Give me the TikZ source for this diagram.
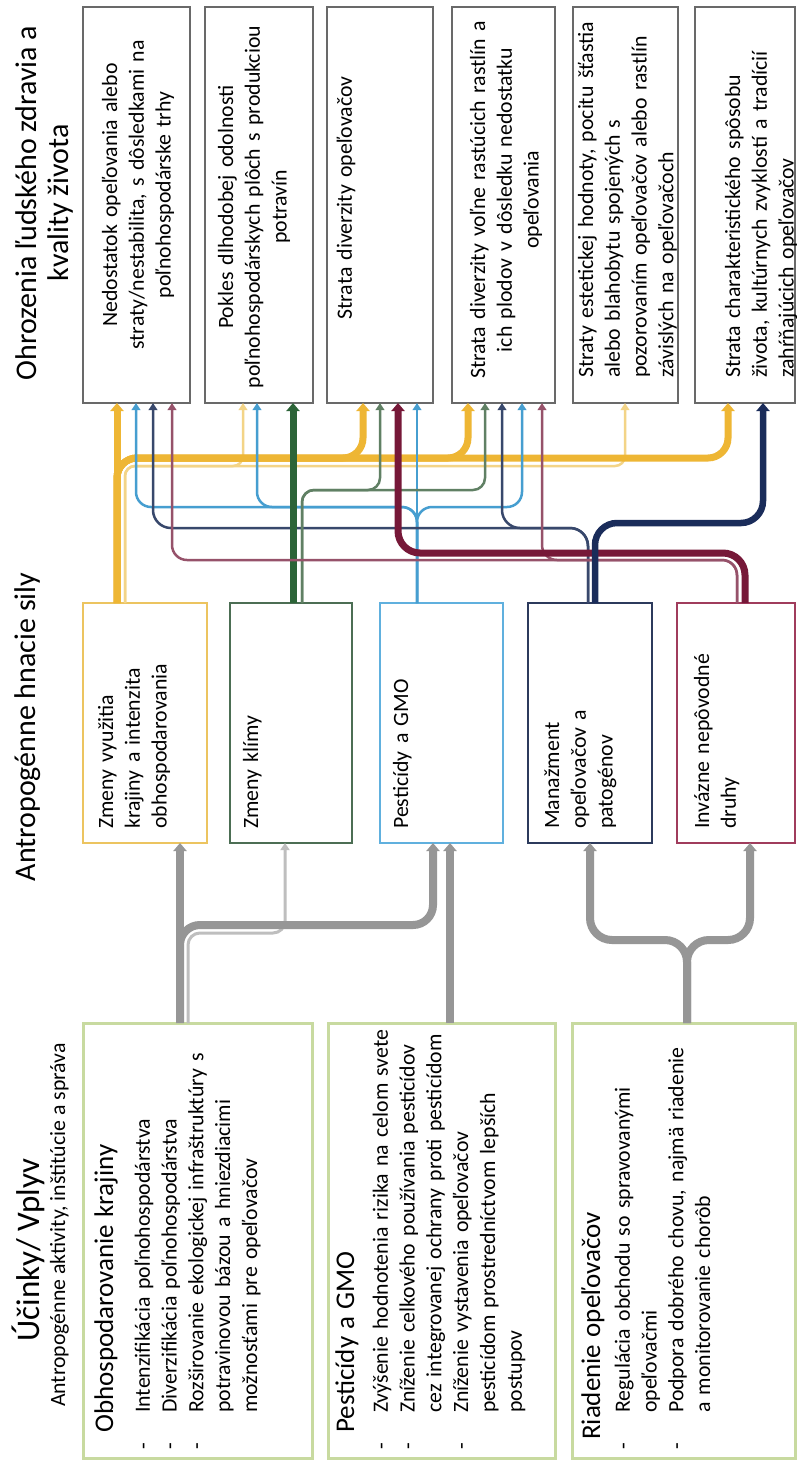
\documentclass[tikz,border=0pt]{standalone}
\usepackage{fontspec}
\setmainfont{Carlito}
\usetikzlibrary{arrows.meta}
\definecolor{cyel}{RGB}{238,182,52}
\definecolor{cyell}{RGB}{243,212,135}
\definecolor{cgrn}{RGB}{44,100,56}
\definecolor{cgrnl}{RGB}{96,128,100}
\definecolor{cblu}{RGB}{70,158,208}
\definecolor{cnav}{RGB}{26,44,90}
\definecolor{cnavl}{RGB}{56,72,108}
\definecolor{cmar}{RGB}{118,24,56}
\definecolor{cmarl}{RGB}{150,82,106}
\definecolor{cgry}{RGB}{150,150,150}
\definecolor{cgryl}{RGB}{190,190,190}
\definecolor{cobox}{RGB}{105,105,105}
\definecolor{cshad}{RGB}{205,205,205}
\definecolor{csbox}{RGB}{200,218,160}
\definecolor{cdy}{RGB}{236,196,96}
\definecolor{cdg}{RGB}{76,110,84}
\definecolor{cdb}{RGB}{96,176,222}
\definecolor{cdn}{RGB}{44,58,92}
\definecolor{cdm}{RGB}{160,60,92}
\newcommand{\bodyfont}{\fontsize{21.8}{26.8}\selectfont}
\newcommand{\ttlfont}{\fontsize{27}{30}\selectfont}
\newcommand{\mybul}{\makebox[37pt][l]{-}}
\newcommand{\myind}{\hspace*{37pt}}
\begin{document}
\begin{tikzpicture}[x=1pt,y=-1pt,
 obox/.style={draw=cobox,line width=2.8pt,fill=white,inner sep=0pt,outer sep=0pt,minimum height=396pt},
 dbox/.style={draw=#1,line width=2.6pt,fill=white,inner sep=0pt,outer sep=0pt,minimum height=240pt},
 sbox/.style={draw=csbox,line width=3pt,fill=white,inner sep=0pt,outer sep=0pt,minimum height=435pt},
 rtxt/.style={rotate=90,inner sep=0pt,font=\bodyfont},
 ctxt/.style={rtxt,align=center,text width=390pt,anchor=center},
 ltxt/.style={rtxt,align=left,text width=#1,anchor=base west},
 hdr/.style={rotate=90,inner sep=0pt,align=center,font=\fontsize{30}{32}\selectfont},
 tk/.style={line width=7pt,-{Triangle[length=8pt,width=13pt]}},
 tn/.style={line width=2.5pt,-{Triangle[length=7pt,width=8.5pt]}},
 gk/.style={cgry,line width=8pt,-{Triangle[length=8pt,width=13pt]}},
 gn/.style={cgryl,line width=3pt,-{Triangle[length=7pt,width=9pt]}},
]
\useasboundingbox (0,0) rectangle (797,1468);
\fill[white] (0,0) rectangle (797,1468);

% outcome boxes
\node[obox,minimum width=107pt] (o1) at (136.5,205) {};
\node[obox,minimum width=108pt] (o2) at (259,205) {};
\node[obox,minimum width=106pt] (o3) at (380,205) {};
\node[obox,minimum width=103pt] (o4) at (503.5,205) {};
\node[obox,minimum width=105pt] (o5) at (625.5,205) {};
\node[obox,minimum width=100pt] (o6) at (745,205) {};

% driver boxes
\node[dbox=cdy,minimum width=124pt] (d1) at (145,723) {};
\node[dbox=cdg,minimum width=122pt] (d2) at (291,723) {};
\node[dbox=cdb,minimum width=123pt] (d3) at (441.5,723) {};
\node[dbox=cdn,minimum width=124pt] (d4) at (590,723) {};
\node[dbox=cdm,minimum width=118pt] (d5) at (736,723) {};

% source boxes
\node[sbox,minimum width=229pt] (s1) at (197.5,1240.5) {};
\node[sbox,minimum width=227pt] (s2) at (441.5,1240.5) {};
\node[sbox,minimum width=223pt] (s3) at (683.5,1240.5) {};

% gray connectors
\draw[gn,rounded corners=12] (s1.north -| 188,0) -- (188,933) -- (285,933) -- (d2.south -| 285,0);
\draw[gk] (s1.north -| 180,0) -- (d1.south -| 180,0);
\draw[gk,rounded corners=20] (s1.north -| 180,0) -- (180,925) -- (433,925) -- (d3.south -| 433,0);
\draw[gk] (s2.north -| 450,0) -- (d3.south -| 450,0);
\draw[gk,rounded corners=22] (s3.north -| 687,0) -- (687,940) -- (590,940) -- (d4.south -| 590,0);
\draw[gk,rounded corners=22] (s3.north -| 687,0) -- (687,940) -- (750,940) -- (d5.south -| 750,0);

% yellow
\draw[tn,cyell,rounded corners=10] (d1.north -| 125,0) -- (125,466) -- (243,466) -- (o2.south -| 243,0);
\draw[tn,cyell,rounded corners=10] (d1.north -| 125,0) -- (125,466) -- (625,466) -- (o5.south -| 625,0);
\draw[tk,cyel] (d1.north -| 117,0) -- (o1.south -| 117,0);
\draw[tk,cyel,rounded corners=20] (d1.north -| 117,0) -- (117,458) -- (363,458) -- (o3.south -| 363,0);
\draw[tk,cyel,rounded corners=20] (d1.north -| 117,0) -- (117,458) -- (468,458) -- (o4.south -| 468,0);
\draw[tk,cyel,rounded corners=20] (d1.north -| 117,0) -- (117,458) -- (728,458) -- (o6.south -| 728,0);

% blue
\draw[tn,cblu] (d3.north -| 417,0) -- (o3.south -| 417,0);
\draw[tn,cblu,rounded corners=15] (d3.north -| 417,0) -- (417,507) -- (136,507) -- (o1.south -| 136,0);
\draw[tn,cblu,rounded corners=15] (d3.north -| 417,0) -- (417,507) -- (257,507) -- (o2.south -| 257,0);
\draw[tn,cblu,rounded corners=15] (d3.north -| 417,0) -- (417,507) -- (522,507) -- (o4.south -| 522,0);

% navy thin
\draw[tn,cnavl,rounded corners=18] (d4.north -| 588,0) -- (588,528) -- (502,528) -- (o4.south -| 502,0);
\draw[tn,cnavl,rounded corners=18] (d4.north -| 588,0) -- (588,528) -- (153,528) -- (o1.south -| 153,0);

% green
\draw[tn,cgrnl,rounded corners=12] (d2.north -| 302,0) -- (302,490) -- (380,490) -- (o3.south -| 380,0);
\draw[tn,cgrnl,rounded corners=12] (d2.north -| 302,0) -- (302,490) -- (485,490) -- (o4.south -| 485,0);
\draw[tk,cgrn] (d2.north -| 293,0) -- (o2.south -| 293,0);

% maroon
\draw[tn,cmarl,rounded corners=15] (d5.north -| 737,0) -- (737,560) -- (172,560) -- (o1.south -| 172,0);
\draw[tn,cmarl,rounded corners=15] (d5.north -| 737,0) -- (737,560) -- (542,560) -- (o4.south -| 542,0);
\draw[tk,cmar,rounded corners=22] (d5.north -| 745,0) -- (745,553) -- (398,553) -- (o3.south -| 398,0);

% navy thick
\draw[tk,cnav,line width=6.5pt,rounded corners=22] (d4.north -| 595,0) -- (595,523) -- (763,523) -- (o6.south -| 763,0);

% headers
\node[hdr] (h1) at (44,203) {Ohrozenia ľudského zdravia a\\kvality života};
\node[hdr] (h2) at (27.5,727) {Antropogénne hnacie sily};
\node[hdr,font=\fontsize{33}{36}\selectfont] (h3) at (28,1250) {Účinky/ Vplyv};
\node[rtxt] (h4) at (59.5,1225) {Antropogénne aktivity, inštitúcie a správa};

% outcome texts
\node[ctxt] (o1t) at (138,195) {Nedostatok opeľovania alebo\\straty/nestabilita, s dôsledkami na\\poľnohospodárske trhy};
\node[ctxt] (o2t) at (254,207) {Pokles dlhodobej odolnosti\\poľnohospodárskych plôch s produkciou\\potravín};
\node[ctxt] (o3t) at (346,198) {Strata diverzity opeľovačov};
\node[ctxt] (o4t) at (506,200) {Strata diverzity voľne rastúcich rastlín a\\ich plodov v dôsledku nedostatku\\opeľovania};
\node[ltxt=370pt] (o5t) at (593,378) {Straty estetickej hodnoty, pocitu šťastia\\alebo blahobytu spojených s\\pozorovaním opeľovačov alebo rastlín\\závislých na opeľovačoch};
\node[ltxt=370pt] (o6t) at (740,378) {Strata charakteristického spôsobu\\života, kultúrnych zvyklostí a tradícií\\zahŕňajúcich opeľovačov};

% driver texts
\node[ltxt=225pt] (d1t) at (113,829) {Zmeny využitia\\krajiny a intenzita\\obhospodarovania};
\node[ltxt=225pt] (d2t) at (258,829) {Zmeny klímy};
\node[ltxt=225pt] (d3t) at (408,829) {Pesticídy a GMO};
\node[ltxt=225pt] (d4t) at (559,829) {Manažment\\opeľovačov a\\patogénov};
\node[ltxt=225pt] (d5t) at (709,829) {Invázne nepôvodné\\druhy};

% source texts
\node[ltxt=430pt] (s1t) at (113,1450) {\hspace*{17pt}{\ttlfont Obhospodarovanie krajiny}\\[10pt]
\mybul Intenzifikácia poľnohospodárstva\\
\mybul Diverzifikácia poľnohospodárstva\\
\mybul Rozširovanie ekologickej infraštruktúry s\\
\myind potravinovou bázou a hniezdiacimi\\
\myind možnosťami pre opeľovačov};
\node[ltxt=430pt] (s2t) at (354,1450) {\hspace*{17pt}{\ttlfont Pesticídy a GMO}\\[7pt]
\mybul Zvýšenie hodnotenia rizika na celom svete\\
\mybul Zníženie celkového používania pesticídov\\
\myind cez integrovanej ochrany proti pesticídom\\
\mybul Zníženie vystavenia opeľovačov\\
\myind pesticídom prostredníctvom lepších\\
\myind postupov};
\node[ltxt=430pt] (s3t) at (600,1450) {\hspace*{10pt}{\ttlfont Riadenie opeľovačov}\\[3pt]
\mybul Regulácia obchodu so spravovanými\\
\myind opeľovačmi\\
\mybul Podpora dobrého chovu, najmä riadenie\\
\myind a monitorovanie chorôb};
\end{tikzpicture}
\end{document}
